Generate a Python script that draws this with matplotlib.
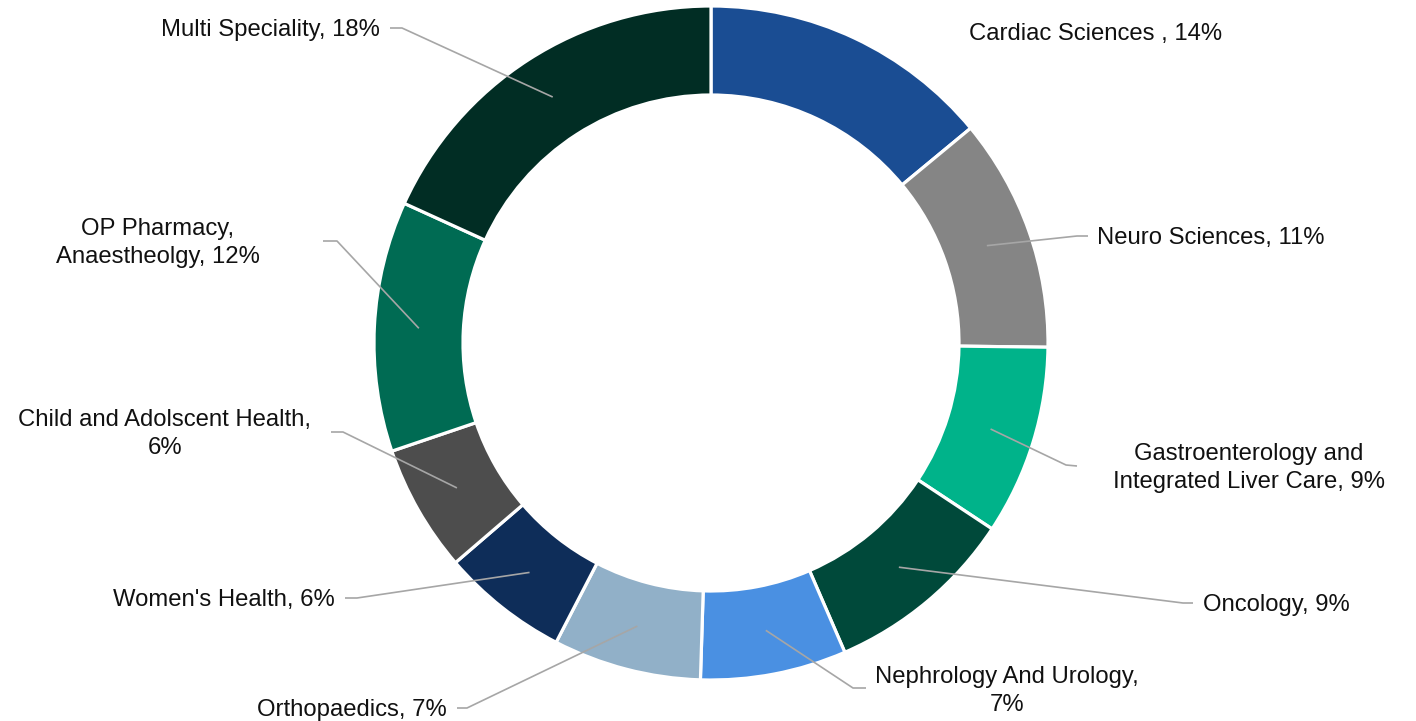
import numpy as np
import matplotlib
matplotlib.use("Agg")
import matplotlib.pyplot as plt

# ---- data ----
label_names = ["Cardiac Sciences , 14%", "Neuro Sciences, 11%",
               "Gastroenterology and\nIntegrated Liver Care, 9%", "Oncology, 9%",
               "Nephrology And Urology,\n7%", "Orthopaedics, 7%", "Women's Health, 6%",
               "Child and Adolscent Health,\n6%", "OP Pharmacy,\nAnaestheolgy, 12%",
               "Multi Speciality, 18%"]
values = [14.0, 11.2, 9.1, 9.2, 7.0, 7.1, 6.1, 6.1, 12.0, 18.2]
colors = ["#1A4D93", "#858585", "#00B38A", "#00493A", "#4A90E2",
          "#91B0C8", "#0E2D59", "#4D4D4D", "#006B53", "#012D24"]

# ---- layout (pixel space, y downward) ----
W, H = 1416, 721
cx, cy, R, ring = 711, 343, 337, 89
# text anchor (x, y), horizontal alignment
text_pos = [(969, 34, "left"), (1097, 238, "left"), (1249, 468, "center"),
            (1203, 605, "left"), (1007, 691, "center"), (447, 710, "right"),
            (335, 600, "right"), (165, 434, "center"), (158, 243, "center"),
            (380, 30, "right")]
elbows = [None, (1077, 236), (1066, 465), (1183, 603), (853, 688), (467, 708),
          (357, 598), (343, 432), (337, 241), (402, 28)]
line_ends = [None, (1088, 236), (1077, 466), (1193, 603), (866, 688), (457, 708),
             (345, 598), (331, 432), (323, 241), (390, 28)]

fig = plt.figure(figsize=(W / 100, H / 100), dpi=100)
ax = fig.add_axes([0, 0, 1, 1])

wedges, _ = ax.pie(values, colors=colors, startangle=90, counterclock=False,
                   center=(cx, H - cy), radius=R,
                   wedgeprops=dict(width=ring, edgecolor="white", linewidth=2.3),
                   frame=True)
ax.set_xlim(0, W)
ax.set_ylim(0, H)
ax.axis("off")

font = dict(family=["Liberation Sans", "DejaVu Sans"], fontsize=17.2, color="#111111")
mid_r = R - ring / 2
for w, name, tp, el, le in zip(wedges, label_names, text_pos, elbows, line_ends):
    ang = np.deg2rad((w.theta1 + w.theta2) / 2)
    ax_x = cx + mid_r * np.cos(ang)
    ax_y = (H - cy) + mid_r * np.sin(ang)
    if el is not None:
        ax.plot([ax_x, el[0], le[0]], [ax_y, H - el[1], H - le[1]],
                color="#A6A6A6", lw=1.2, solid_capstyle="butt", zorder=5)
    ax.text(tp[0], H - tp[1], name, ha=tp[2], va="center", linespacing=1.3,
            multialignment="center", **font)

fig.savefig("out.png", dpi=100, facecolor="white")
